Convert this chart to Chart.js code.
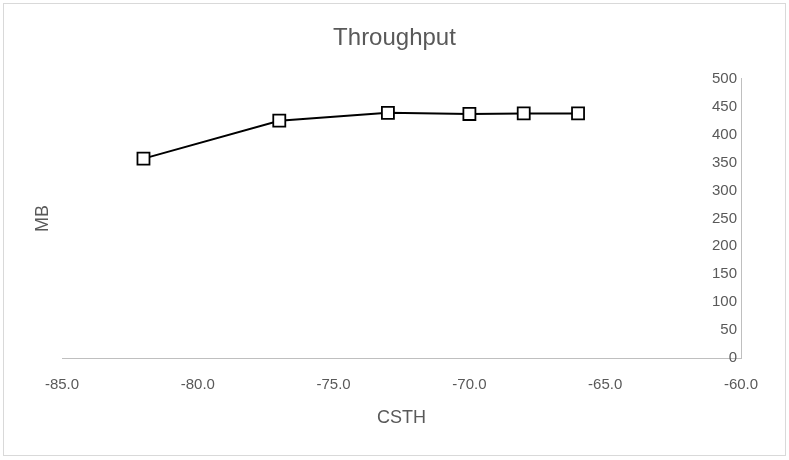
<!DOCTYPE html>
<html>
<head>
<meta charset="utf-8">
<script src="https://cdn.jsdelivr.net/npm/chart.js@4"></script>
<style>
  html, body { margin: 0; padding: 0; background: #fff; }
  #wrap { width: 789px; height: 460px; }
</style>
</head>
<body>
<div id="wrap"><canvas id="tpChart"></canvas></div>
<script>
// data
const csth = [-82, -77, -73, -70, -68, -66];
const throughputMB = [357, 425, 439, 437, 438, 438];
const xRange = [-85, -60];
const yRange = [0, 500];

const FONT = '"Liberation Sans", Arial, sans-serif';
const GREY = '#595959';

// white background + light frame round the whole chart
const frame = {
    id: 'frame',
    beforeDraw(chart) {
        const c = chart.ctx;
        c.save();
        c.fillStyle = '#fff';
        c.fillRect(0, 0, chart.width, chart.height);
        c.strokeStyle = '#d9d9d9';
        c.lineWidth = 1;
        c.strokeRect(3.5, 3.5, chart.width - 7, chart.height - 8);
        c.restore();
    }
};

const points = csth.map((x, i) => ({ x: x, y: throughputMB[i] }));

new Chart(document.getElementById('tpChart'), {
    type: 'scatter',
    data: {
        datasets: [{
            label: 'Throughput',
            data: points,
            showLine: true,
            borderColor: '#000',
            borderWidth: 2,
            pointStyle: 'rect',
            pointRadius: 8.5,
            pointBackgroundColor: '#fff',
            pointBorderColor: '#000',
            pointBorderWidth: 1.8,
        }]
    },
    options: {
        responsive: true,
        maintainAspectRatio: false,
        animation: false,
        layout: { padding: 0 },
        plugins: {
            legend: { display: false },
            tooltip: { enabled: false },
            title: {
                display: true,
                text: 'Throughput',
                color: GREY,
                font: { family: FONT, size: 24, weight: 'normal' },
                padding: { top: 24, bottom: 26 },
            },
        },
        scales: {
            x: {
                type: 'linear',
                min: xRange[0],
                max: xRange[1],
                grid: { display: false },
                border: { color: '#bfbfbf', width: 1 },
                ticks: {
                    stepSize: 5,
                    color: GREY,
                    font: { family: FONT, size: 15 },
                    padding: 10,
                    maxRotation: 0,
                    callback: v => v.toFixed(1),
                },
                title: {
                    display: true,
                    text: 'CSTH',
                    color: GREY,
                    font: { family: FONT, size: 18 },
                    padding: { top: 4, bottom: 31 },
                },
                afterFit: s => { s.height = 102; },
            },
            y: {
                position: 'right',
                weight: 0,
                min: yRange[0],
                max: yRange[1],
                grid: { display: false },
                border: { color: '#bfbfbf', width: 1 },
                ticks: {
                    stepSize: 50,
                    mirror: true,
                    padding: -4,
                    color: GREY,
                    font: { family: FONT, size: 15 },
                },
                afterFit: s => { s.width = 0; },
            },
            // empty strip to the right of the value axis
            yPad: {
                position: 'right',
                weight: 1,
                grid: { display: false },
                border: { display: false },
                ticks: { display: false },
                afterFit: s => { s.width = 48; },
            },
            // left side only carries the axis title
            yTitle: {
                position: 'left',
                min: yRange[0],
                max: yRange[1],
                grid: { display: false },
                border: { display: false },
                ticks: { display: false },
                title: {
                    display: true,
                    text: 'MB',
                    color: GREY,
                    font: { family: FONT, size: 18 },
                    padding: { top: 32, bottom: 4 },
                },
                afterFit: s => { s.width = 62; },
            },
        },
    },
    plugins: [frame],
});
</script>
</body>
</html>
